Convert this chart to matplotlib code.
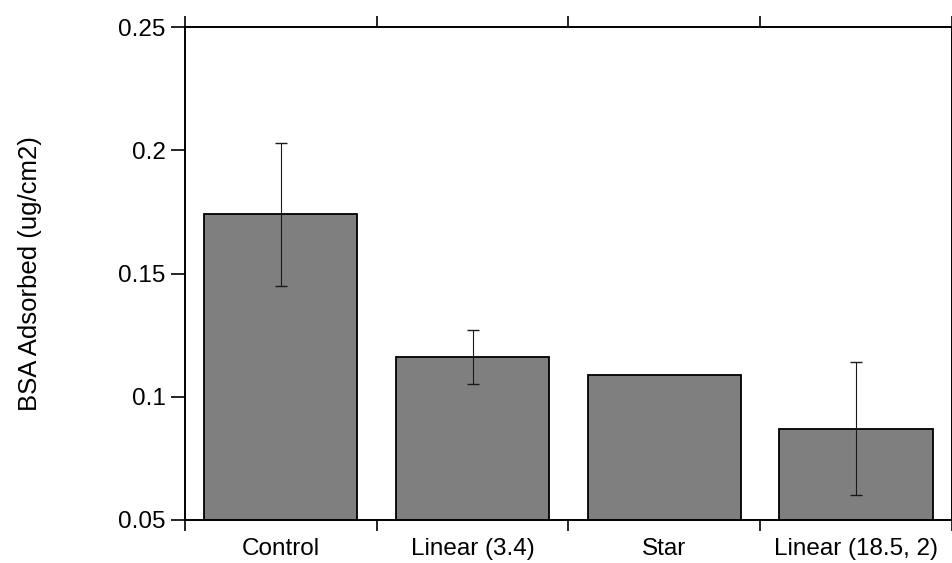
import matplotlib
matplotlib.use("Agg")
import matplotlib.pyplot as plt
import numpy as np

categories = ["Control", "Linear (3.4)", "Star", "Linear (18.5, 2)"]
bsa_adsorbed = [0.174, 0.116, 0.109, 0.087]
bsa_error = [0.029, 0.011, 0.0, 0.027]
y_ticks = [0.05, 0.1, 0.15, 0.2, 0.25]
y_tick_labels = ["0.05", "0.1", "0.15", "0.2", "0.25"]

plt.rcParams["font.family"] = ["Liberation Sans", "DejaVu Sans"]

fig = plt.figure(figsize=(9.53, 5.63), dpi=100)
ax = fig.add_axes([0.194, 0.0764, 0.805, 0.8756])

x = np.arange(len(categories))
ax.bar(x, bsa_adsorbed, width=0.8, bottom=0, color="#7f7f7f",
       edgecolor="black", linewidth=1.3, zorder=2)

# error bars only where a spread was measured
has_err = [i for i, e in enumerate(bsa_error) if e > 0]
ax.errorbar([x[i] for i in has_err], [bsa_adsorbed[i] for i in has_err],
            yerr=[bsa_error[i] for i in has_err], fmt="none",
            ecolor="#1a1a1a", elinewidth=0.8, capsize=4, capthick=1.0,
            zorder=3)

ax.set_xlim(-0.5, len(categories) - 0.5)
ax.set_ylim(0.05, 0.25)

# category boundaries carry the tick marks, labels sit at bar centres
ax.set_xticks(np.arange(-0.5, len(categories)), labels=[])
ax.set_xticks(x, labels=categories, minor=True)
ax.tick_params(axis="x", which="major", direction="out", length=8, width=1.2,
               top=True, bottom=True, labeltop=False)
ax.tick_params(axis="x", which="minor", length=0, labelsize=17.5, pad=13)

ax.set_yticks(y_ticks, labels=y_tick_labels)
ax.tick_params(axis="y", direction="out", length=10, width=1.2,
               labelsize=17.5, pad=4, right=False)

for s in ax.spines.values():
    s.set_linewidth(1.4)

ax.set_ylabel("BSA Adsorbed (ug/cm2)", fontsize=18.5, labelpad=55)

fig.savefig("out.png", dpi=100)
